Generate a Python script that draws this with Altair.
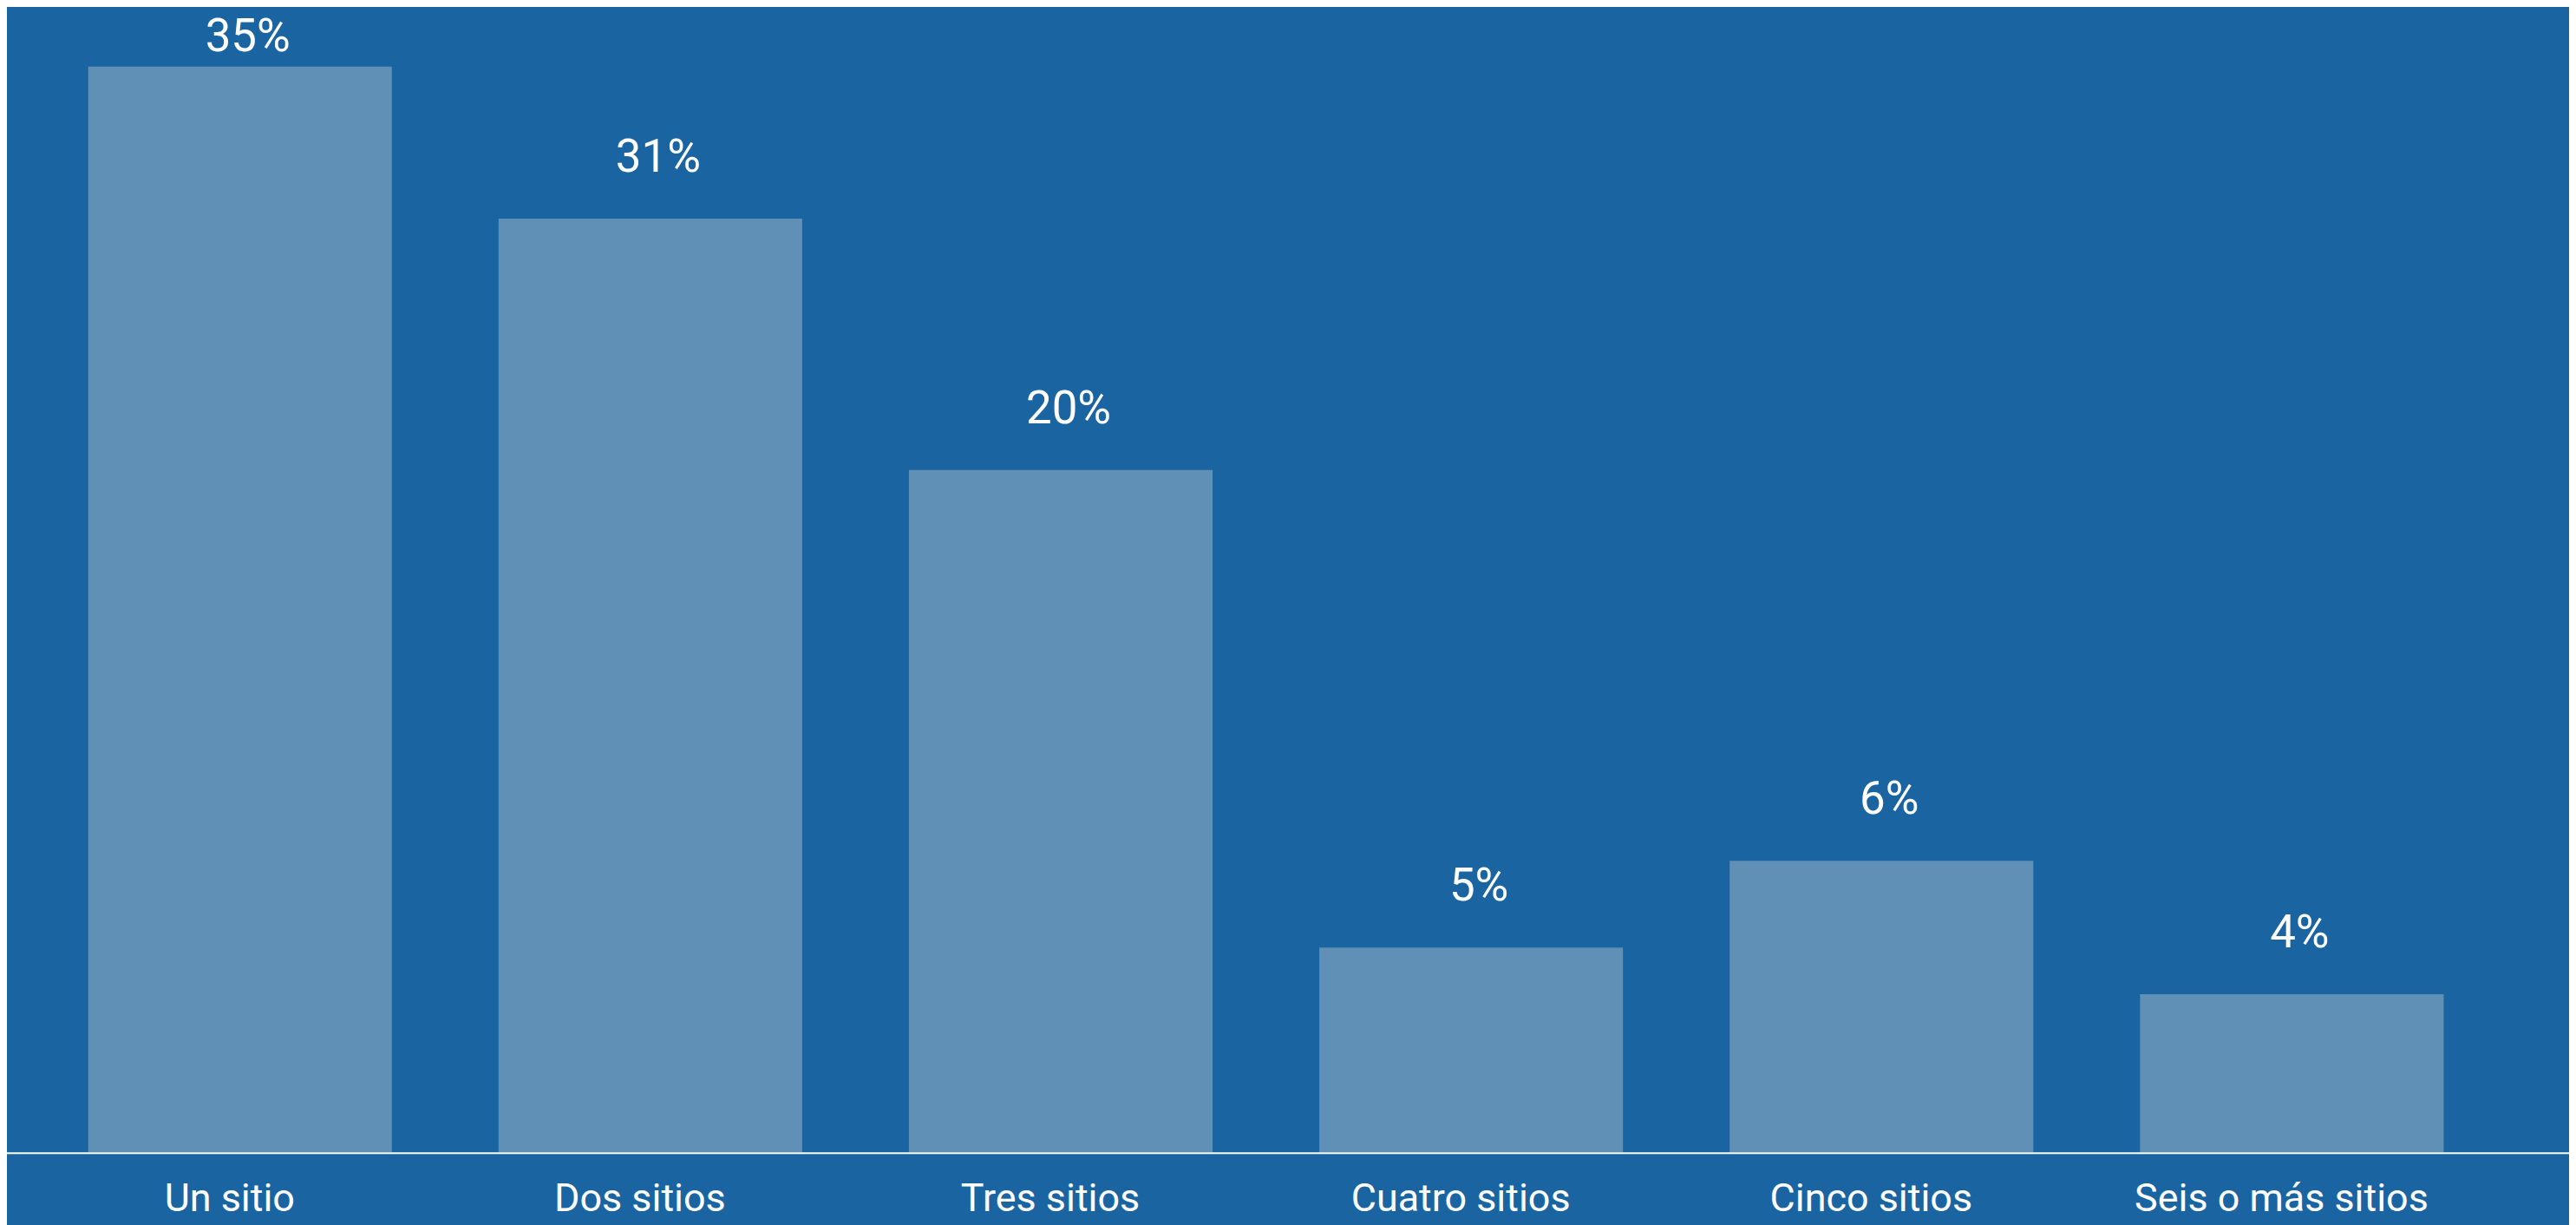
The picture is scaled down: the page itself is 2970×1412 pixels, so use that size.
import altair as alt
import pandas as pd

categories = ["Un sitio", "Dos sitios", "Tres sitios", "Cuatro sitios", "Cinco sitios", "Seis o más sitios"]
values = [35.0, 30.1, 22.0, 6.6, 9.4, 5.1]
labels = ["35%", "31%", "20%", "5%", "6%", "4%"]

df = pd.DataFrame({"cat": categories, "value": values, "label": labels})

BG = "#1a65a1"
BAR = "#6090b5"
W, H = 2911, 1322

x = alt.X(
    "cat:N",
    sort=categories,
    scale=alt.Scale(paddingInner=0.26, paddingOuter=0.198),
    axis=alt.Axis(
        title=None, domain=False, ticks=False, tickSize=0, grid=False,
        labelPadding=31, labelFontSize=45, labelFont="Roboto", labelLimit=0,
        labelColor="white", labelAngle=0, labelOffset=-12,
    ),
)
y = alt.Y("value:Q", scale=alt.Scale(domain=[0, 36.87], nice=False, zero=True), axis=None)

base = alt.Chart(df)
bars = base.mark_bar(color=BAR).encode(x=x, y=y)

text_enc = dict(x=alt.X("cat:N", sort=categories), y="value:Q", text="label:N")
text_style = dict(dx=9, baseline="alphabetic", align="center",
                  fontSize=53, font="Roboto", color="white")

text_top = (
    base.transform_joinaggregate(vmax="max(value)")
    .transform_filter("datum.value >= datum.vmax")
    .mark_text(dy=-18, **text_style)
    .encode(**text_enc)
)
text_rest = (
    base.transform_joinaggregate(vmax="max(value)")
    .transform_filter("datum.value < datum.vmax")
    .mark_text(dy=-54, **text_style)
    .encode(**text_enc)
)

rule = alt.Chart(pd.DataFrame({"a": [0]})).mark_rule(color="white", strokeWidth=2).encode(
    x=alt.value(0), x2=alt.value(2962), y=alt.value(1323)
)

chart = (
    alt.layer(bars, text_top, text_rest, rule)
    .properties(
        width=W, height=H, background=BG,
        autosize=alt.AutoSizeParams(type="none"),
        padding={"left": 0, "top": 0, "right": 51, "bottom": 82},
    )
    .configure_view(stroke=None)
)

chart.save("out.html", embed_options={"renderer": "svg", "actions": False})
